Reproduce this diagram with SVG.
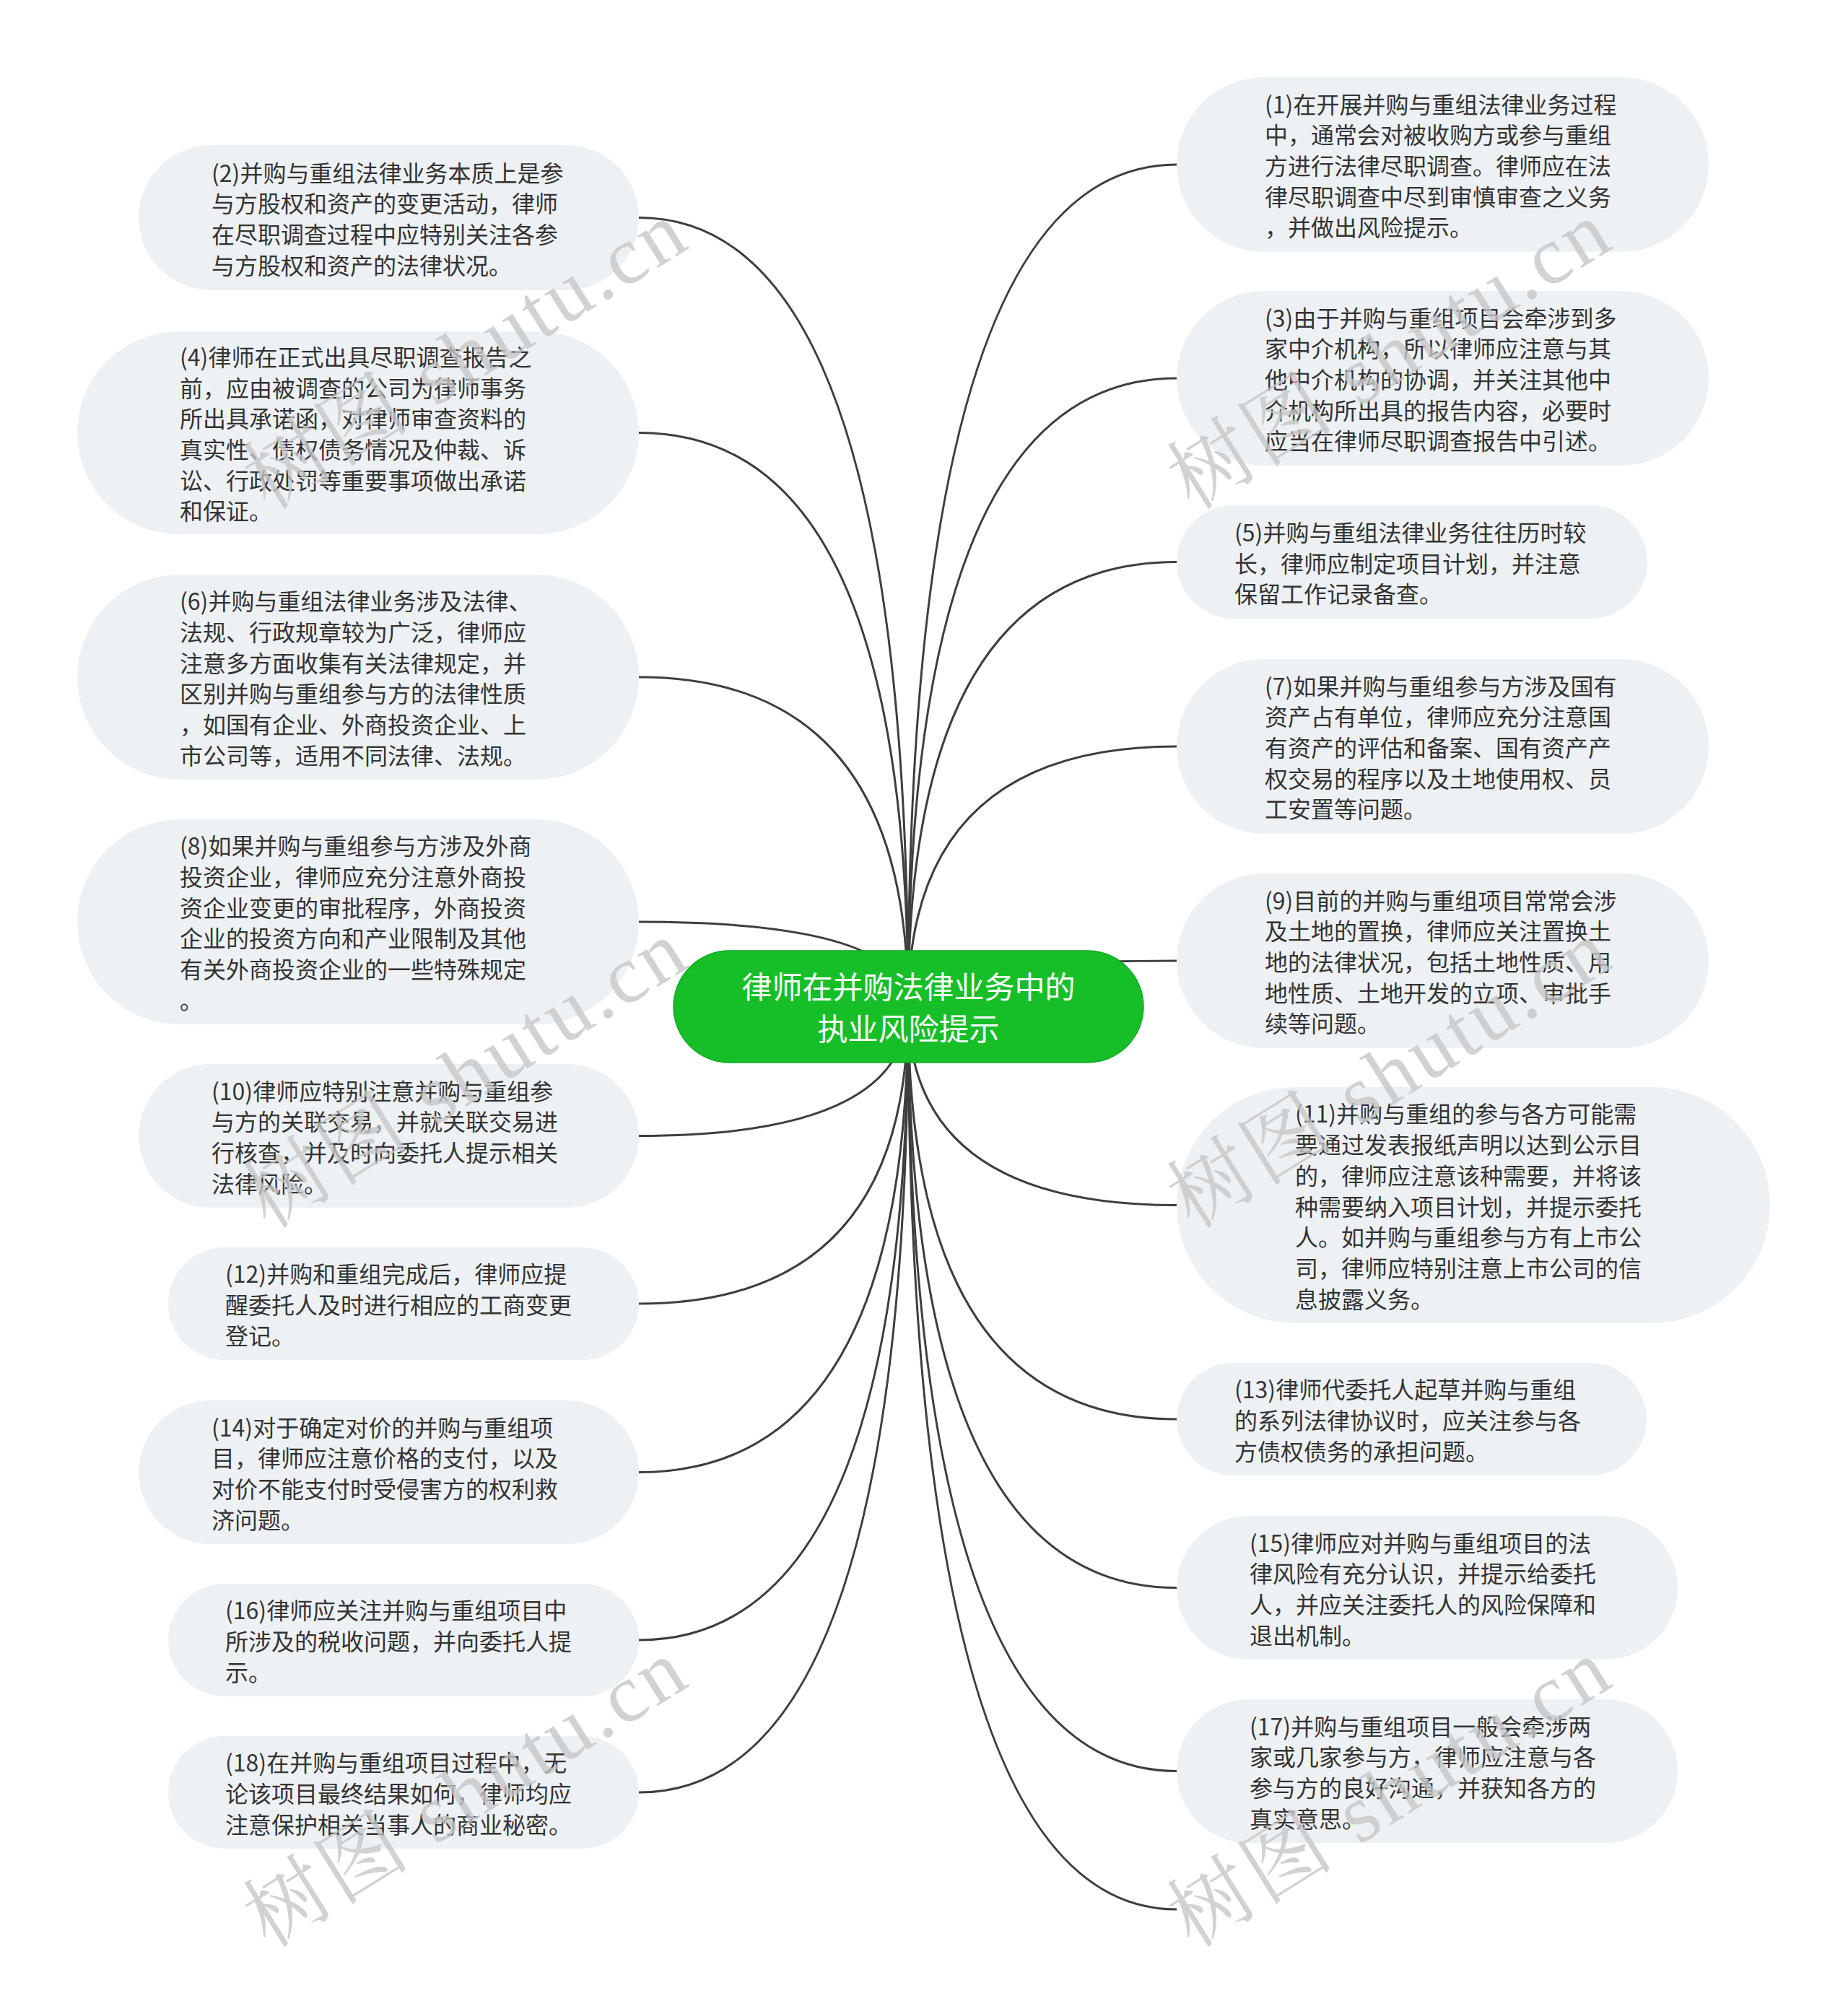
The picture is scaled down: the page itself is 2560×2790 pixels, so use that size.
<svg xmlns="http://www.w3.org/2000/svg" width="2560" height="2790" viewBox="0 0 2560 2790">
<style>
.n{fill:#eef1f4;}
.t{font-family:"Noto Sans CJK SC","Noto Sans",sans-serif;font-size:32px;fill:#333333;}
.rt{font-family:"Noto Sans CJK SC","Noto Sans",sans-serif;font-size:42px;fill:#ffffff;}
.c path{fill:none;stroke:#3c3f3c;stroke-width:3;}
.wm{font-family:"Liberation Serif","Noto Serif CJK SC","Noto Sans CJK SC",serif;font-size:114px;fill:#c6c6c6;opacity:0.78;letter-spacing:5px;}
</style>
<rect width="2560" height="2790" fill="#ffffff"/>
<g class="c" id="connectors">
<path d="M1258,1394 Q1258,301.5 885,301.5"/>
<path d="M1258,1394 Q1258,599.5 885,599.5"/>
<path d="M1258,1394 Q1258,938 885,938"/>
<path d="M1258,1394 Q1258,1277 885,1277"/>
<path d="M1258,1394 Q1258,1573.5 885,1573.5"/>
<path d="M1258,1394 Q1258,1806 885,1806"/>
<path d="M1258,1394 Q1258,2039.5 885,2039.5"/>
<path d="M1258,1394 Q1258,2272 885,2272"/>
<path d="M1258,1394 Q1258,2483 885,2483"/>
<path d="M1258,1394 Q1258,228 1630,228"/>
<path d="M1258,1394 Q1258,524 1630,524"/>
<path d="M1258,1394 Q1258,778.5 1630,778.5"/>
<path d="M1258,1394 Q1258,1034 1630,1034"/>
<path d="M1258,1394 Q1258,1331 1630,1331"/>
<path d="M1258,1394 Q1258,1669.5 1630,1669.5"/>
<path d="M1258,1394 Q1258,1966 1630,1966"/>
<path d="M1258,1394 Q1258,2199.5 1630,2199.5"/>
<path d="M1258,1394 Q1258,2453.5 1630,2453.5"/>
<path d="M1258,1394 Q1258,2645 1630,2645"/>
</g>
<g id="node1"><rect class="n" x="1630" y="107" width="737" height="242" rx="121"/>
<text class="t" x="1752" y="156.6"><tspan x="1752">(1)在开展并购与重组法律业务过程</tspan><tspan x="1752" dy="42.7">中，通常会对被收购方或参与重组</tspan><tspan x="1752" dy="42.7">方进行法律尽职调查。律师应在法</tspan><tspan x="1752" dy="42.7">律尽职调查中尽到审慎审查之义务</tspan><tspan x="1752" dy="42.7">，并做出风险提示。</tspan></text></g>
<g id="node2"><rect class="n" x="192" y="201" width="693" height="201" rx="100.5"/>
<text class="t" x="293" y="251.5"><tspan x="293">(2)并购与重组法律业务本质上是参</tspan><tspan x="293" dy="42.7">与方股权和资产的变更活动，律师</tspan><tspan x="293" dy="42.7">在尽职调查过程中应特别关注各参</tspan><tspan x="293" dy="42.7">与方股权和资产的法律状况。</tspan></text></g>
<g id="node3"><rect class="n" x="1630" y="403" width="737" height="242" rx="121"/>
<text class="t" x="1752" y="452.6"><tspan x="1752">(3)由于并购与重组项目会牵涉到多</tspan><tspan x="1752" dy="42.7">家中介机构，所以律师应注意与其</tspan><tspan x="1752" dy="42.7">他中介机构的协调，并关注其他中</tspan><tspan x="1752" dy="42.7">介机构所出具的报告内容，必要时</tspan><tspan x="1752" dy="42.7">应当在律师尽职调查报告中引述。</tspan></text></g>
<g id="node4"><rect class="n" x="107" y="459" width="778" height="281" rx="140.5"/>
<text class="t" x="249" y="506.8"><tspan x="249">(4)律师在正式出具尽职调查报告之</tspan><tspan x="249" dy="42.7">前，应由被调查的公司为律师事务</tspan><tspan x="249" dy="42.7">所出具承诺函，对律师审查资料的</tspan><tspan x="249" dy="42.7">真实性、债权债务情况及仲裁、诉</tspan><tspan x="249" dy="42.7">讼、行政处罚等重要事项做出承诺</tspan><tspan x="249" dy="42.7">和保证。</tspan></text></g>
<g id="node5"><rect class="n" x="1630" y="700" width="652" height="157" rx="78.5"/>
<text class="t" x="1710" y="749.8"><tspan x="1710">(5)并购与重组法律业务往往历时较</tspan><tspan x="1710" dy="42.7">长，律师应制定项目计划，并注意</tspan><tspan x="1710" dy="42.7">保留工作记录备查。</tspan></text></g>
<g id="node6"><rect class="n" x="107" y="796" width="778" height="284" rx="142"/>
<text class="t" x="249" y="845.3"><tspan x="249">(6)并购与重组法律业务涉及法律、</tspan><tspan x="249" dy="42.7">法规、行政规章较为广泛，律师应</tspan><tspan x="249" dy="42.7">注意多方面收集有关法律规定，并</tspan><tspan x="249" dy="42.7">区别并购与重组参与方的法律性质</tspan><tspan x="249" dy="42.7">，如国有企业、外商投资企业、上</tspan><tspan x="249" dy="42.7">市公司等，适用不同法律、法规。</tspan></text></g>
<g id="node7"><rect class="n" x="1630" y="913" width="737" height="242" rx="121"/>
<text class="t" x="1752" y="962.6"><tspan x="1752">(7)如果并购与重组参与方涉及国有</tspan><tspan x="1752" dy="42.7">资产占有单位，律师应充分注意国</tspan><tspan x="1752" dy="42.7">有资产的评估和备案、国有资产产</tspan><tspan x="1752" dy="42.7">权交易的程序以及土地使用权、员</tspan><tspan x="1752" dy="42.7">工安置等问题。</tspan></text></g>
<g id="node8"><rect class="n" x="107" y="1135" width="778" height="284" rx="142"/>
<text class="t" x="249" y="1184.3"><tspan x="249">(8)如果并购与重组参与方涉及外商</tspan><tspan x="249" dy="42.7">投资企业，律师应充分注意外商投</tspan><tspan x="249" dy="42.7">资企业变更的审批程序，外商投资</tspan><tspan x="249" dy="42.7">企业的投资方向和产业限制及其他</tspan><tspan x="249" dy="42.7">有关外商投资企业的一些特殊规定</tspan><tspan x="249" dy="42.7">。</tspan></text></g>
<g id="node9"><rect class="n" x="1630" y="1210" width="737" height="242" rx="121"/>
<text class="t" x="1752" y="1259.6"><tspan x="1752">(9)目前的并购与重组项目常常会涉</tspan><tspan x="1752" dy="42.7">及土地的置换，律师应关注置换土</tspan><tspan x="1752" dy="42.7">地的法律状况，包括土地性质、用</tspan><tspan x="1752" dy="42.7">地性质、土地开发的立项、审批手</tspan><tspan x="1752" dy="42.7">续等问题。</tspan></text></g>
<g id="node10"><rect class="n" x="192" y="1474" width="693" height="199" rx="99.5"/>
<text class="t" x="293" y="1523.5"><tspan x="293">(10)律师应特别注意并购与重组参</tspan><tspan x="293" dy="42.7">与方的关联交易，并就关联交易进</tspan><tspan x="293" dy="42.7">行核查，并及时向委托人提示相关</tspan><tspan x="293" dy="42.7">法律风险。</tspan></text></g>
<g id="node11"><rect class="n" x="1630" y="1506" width="822" height="327" rx="163.5"/>
<text class="t" x="1794" y="1555.4"><tspan x="1794">(11)并购与重组的参与各方可能需</tspan><tspan x="1794" dy="42.7">要通过发表报纸声明以达到公示目</tspan><tspan x="1794" dy="42.7">的，律师应注意该种需要，并将该</tspan><tspan x="1794" dy="42.7">种需要纳入项目计划，并提示委托</tspan><tspan x="1794" dy="42.7">人。如并购与重组参与方有上市公</tspan><tspan x="1794" dy="42.7">司，律师应特别注意上市公司的信</tspan><tspan x="1794" dy="42.7">息披露义务。</tspan></text></g>
<g id="node12"><rect class="n" x="233" y="1728" width="652" height="156" rx="78"/>
<text class="t" x="312" y="1777.3"><tspan x="312">(12)并购和重组完成后，律师应提</tspan><tspan x="312" dy="42.7">醒委托人及时进行相应的工商变更</tspan><tspan x="312" dy="42.7">登记。</tspan></text></g>
<g id="node13"><rect class="n" x="1630" y="1888" width="651" height="156" rx="78"/>
<text class="t" x="1710" y="1937.3"><tspan x="1710">(13)律师代委托人起草并购与重组</tspan><tspan x="1710" dy="42.7">的系列法律协议时，应关注参与各</tspan><tspan x="1710" dy="42.7">方债权债务的承担问题。</tspan></text></g>
<g id="node14"><rect class="n" x="192" y="1940" width="693" height="199" rx="99.5"/>
<text class="t" x="293" y="1989.5"><tspan x="293">(14)对于确定对价的并购与重组项</tspan><tspan x="293" dy="42.7">目，律师应注意价格的支付，以及</tspan><tspan x="293" dy="42.7">对价不能支付时受侵害方的权利救</tspan><tspan x="293" dy="42.7">济问题。</tspan></text></g>
<g id="node15"><rect class="n" x="1630" y="2100" width="694" height="199" rx="99.5"/>
<text class="t" x="1731" y="2149.5"><tspan x="1731">(15)律师应对并购与重组项目的法</tspan><tspan x="1731" dy="42.7">律风险有充分认识，并提示给委托</tspan><tspan x="1731" dy="42.7">人，并应关注委托人的风险保障和</tspan><tspan x="1731" dy="42.7">退出机制。</tspan></text></g>
<g id="node16"><rect class="n" x="233" y="2194" width="652" height="156" rx="78"/>
<text class="t" x="312" y="2243.3"><tspan x="312">(16)律师应关注并购与重组项目中</tspan><tspan x="312" dy="42.7">所涉及的税收问题，并向委托人提</tspan><tspan x="312" dy="42.7">示。</tspan></text></g>
<g id="node17"><rect class="n" x="1630" y="2354" width="694" height="199" rx="99.5"/>
<text class="t" x="1731" y="2403.5"><tspan x="1731">(17)并购与重组项目一般会牵涉两</tspan><tspan x="1731" dy="42.7">家或几家参与方，律师应注意与各</tspan><tspan x="1731" dy="42.7">参与方的良好沟通，并获知各方的</tspan><tspan x="1731" dy="42.7">真实意思。</tspan></text></g>
<g id="node18"><rect class="n" x="233" y="2405" width="652" height="156" rx="78"/>
<text class="t" x="312" y="2454.3"><tspan x="312">(18)在并购与重组项目过程中，无</tspan><tspan x="312" dy="42.7">论该项目最终结果如何，律师均应</tspan><tspan x="312" dy="42.7">注意保护相关当事人的商业秘密。</tspan></text></g>
<g id="root"><rect x="933" y="1317" width="651" height="155" rx="77.5" fill="#16bf28" stroke="#12a824" stroke-width="1.5"/>
<text class="rt" x="1258.5" y="1383" text-anchor="middle">律师在并购法律业务中的</text>
<text class="rt" x="1258.5" y="1441" text-anchor="middle">执业风险提示</text></g>
<g id="watermarks">
<text class="wm" transform="rotate(-32 372 708)" x="372" y="708">树图 shutu.cn</text>
<text class="wm" transform="rotate(-32 1652 708)" x="1652" y="708">树图 shutu.cn</text>
<text class="wm" transform="rotate(-32 372 1704)" x="372" y="1704">树图 shutu.cn</text>
<text class="wm" transform="rotate(-32 1652 1704)" x="1652" y="1704">树图 shutu.cn</text>
<text class="wm" transform="rotate(-32 372 2700)" x="372" y="2700">树图 shutu.cn</text>
<text class="wm" transform="rotate(-32 1652 2700)" x="1652" y="2700">树图 shutu.cn</text>
</g>
</svg>
